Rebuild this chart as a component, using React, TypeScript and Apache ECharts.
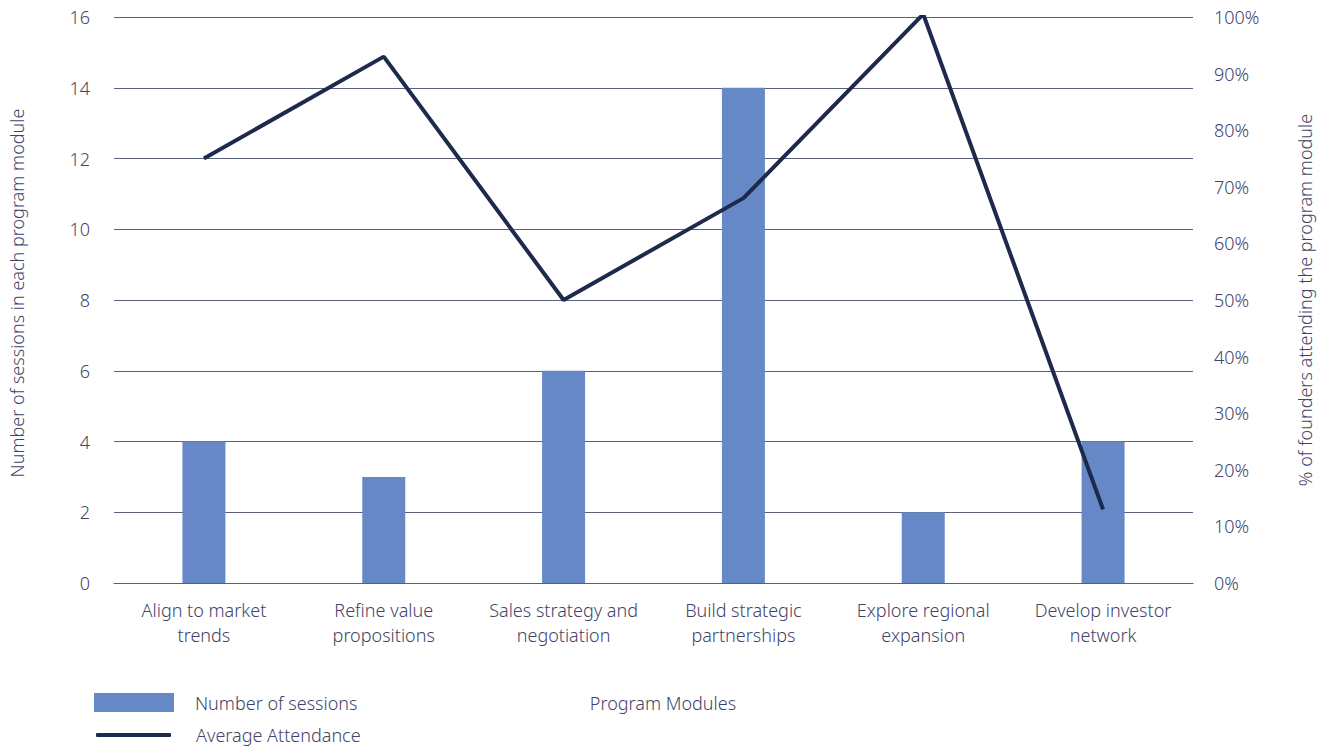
import React, { useEffect, useRef } from "react";
import * as echarts from "echarts";

const categories = [
  "Align to market\ntrends",
  "Refine value\npropositions",
  "Sales strategy and\nnegotiation",
  "Build strategic\npartnerships",
  "Explore regional\nexpansion",
  "Develop investor\nnetwork",
];
const sessions = [4, 3, 6, 14, 2, 4];
const attendance = [75, 93, 50, 68, 100.5, 13];
const leftTicks = { min: 0, max: 16, interval: 2 };
const rightTicks = { min: 0, max: 100, interval: 10 };

const TEXT = "#3f4468";
const FONT = "'Noto Sans', Roboto, sans-serif";
const BAR = "#6788c6";
const LINE = "#1e2a4b";

export default function App() {
  const ref = useRef<HTMLDivElement>(null);
  useEffect(() => {
    document.body.style.margin = "0";
    const chart = echarts.init(ref.current!, null, { renderer: "svg" });
    const legendText = { fontSize: 18, color: TEXT, fontFamily: FONT, fontWeight: 300, padding: [0, 0, 0, 16] };
    chart.setOption({
      animation: false,
      textStyle: { fontFamily: FONT, color: TEXT, fontWeight: 300 },
      grid: { left: 114, right: 138, top: 17, bottom: 166 },
      legend: [
        {
          left: 94,
          top: 693,
          padding: 0,
          itemWidth: 80,
          itemHeight: 19,
          textStyle: legendText,
          data: [{ name: "Number of sessions", icon: "rect", itemStyle: { color: BAR } }],
        },
        {
          left: 96,
          top: 726,
          padding: 0,
          itemWidth: 75,
          itemHeight: 4,
          textStyle: { ...legendText, padding: [0, 0, 0, 20] },
          data: [{ name: "Average Attendance", icon: "roundRect", itemStyle: { color: LINE } }],
        },
      ],
      xAxis: {
        type: "category",
        data: categories,
        name: "Program Modules",
        nameLocation: "middle",
        nameGap: 111,
        nameTextStyle: { fontSize: 18, color: TEXT, fontWeight: 300, padding: [0, 0, 0, 19] },
        axisTick: { show: false },
        axisLine: { lineStyle: { color: "#5b5f73", width: 1 } },
        axisLabel: { fontSize: 18, color: TEXT, fontWeight: 300, lineHeight: 25, margin: 14, interval: 0 },
      },
      yAxis: [
        {
          type: "value",
          ...leftTicks,
          name: "Number of sessions in each program module",
          nameLocation: "middle",
          nameGap: 88,
          nameTextStyle: { fontSize: 18, color: TEXT, fontWeight: 300, padding: [0, 0, 0, 14] },
          axisLabel: { fontSize: 18, color: TEXT, fontWeight: 300, margin: 24 },
          axisLine: { show: false },
          axisTick: { show: false },
          splitLine: { lineStyle: { color: "#5b607a", width: 1 } },
        },
        {
          type: "value",
          ...rightTicks,
          position: "right",
          name: "% of founders attending the program module",
          nameLocation: "middle",
          nameRotate: 90,
          nameGap: 103,
          nameTextStyle: { fontSize: 18, color: TEXT, fontWeight: 300 },
          axisLabel: { fontSize: 18, color: TEXT, fontWeight: 300, margin: 21, formatter: "{value}%" },
          axisLine: { show: false },
          axisTick: { show: false },
          splitLine: { show: false },
        },
      ],
      series: [
        {
          name: "Number of sessions",
          type: "bar",
          data: sessions,
          barWidth: 43,
          itemStyle: { color: BAR },
        },
        {
          name: "Average Attendance",
          type: "line",
          yAxisIndex: 1,
          data: attendance,
          symbol: "none",
          lineStyle: { color: LINE, width: 4 },
          itemStyle: { color: LINE },
        },
      ],
    });
    return () => chart.dispose();
  }, []);
  return <div ref={ref} style={{ width: 1331, height: 749 }} />;
}
